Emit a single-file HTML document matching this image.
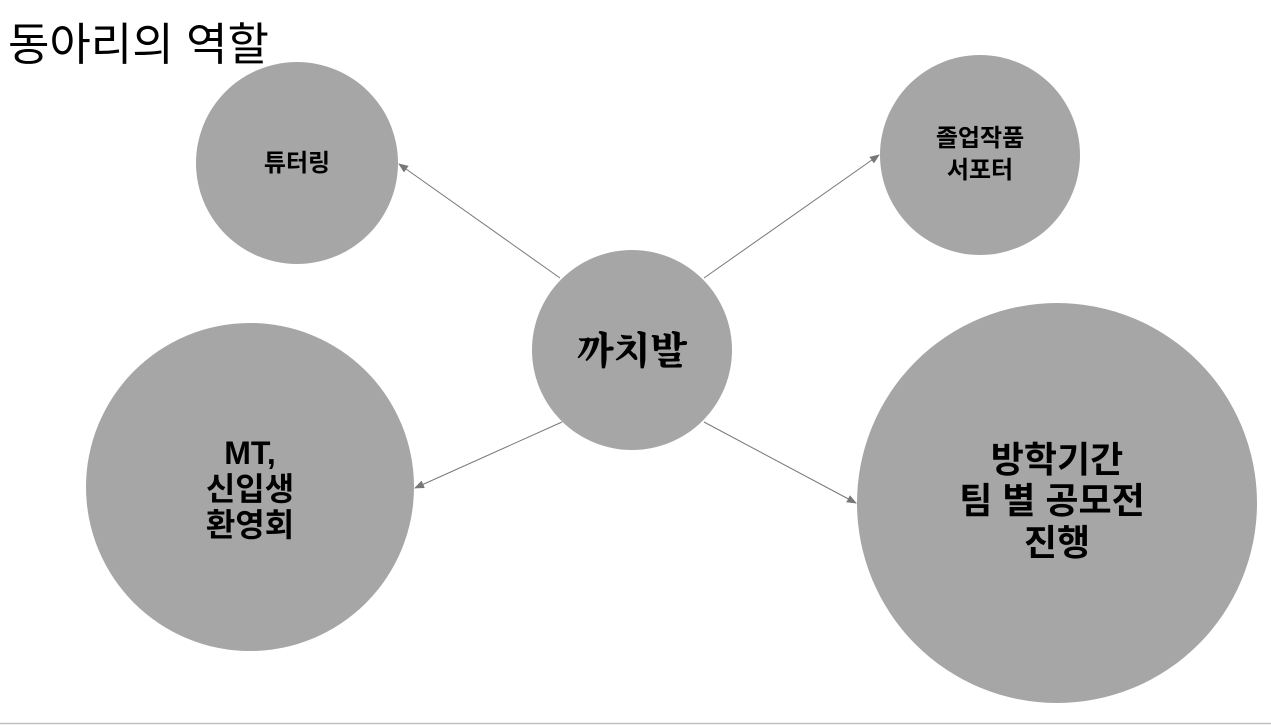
<!DOCTYPE html>
<html><head><meta charset="utf-8"><style>
html,body{margin:0;padding:0;background:#fff;}
body{width:1271px;height:725px;overflow:hidden;position:relative;}
svg{position:absolute;left:0;top:0;}
.t{font-family:"Liberation Sans","Noto Sans CJK KR",sans-serif;font-weight:bold;fill:#000;text-anchor:middle;}
</style></head><body>
<svg width="1271" height="725" viewBox="0 0 1271 725">
<defs><marker id="a" markerWidth="10" markerHeight="8" refX="9" refY="4" orient="auto" markerUnits="userSpaceOnUse"><path d="M0,0 L10,4 L0,8 z" fill="#777"/></marker></defs>
<text x="8" y="60" font-family="Liberation Sans,'Noto Sans CJK KR',sans-serif" font-size="45" fill="#000">동아리의 역할</text>
<g fill="#a6a6a6">
<circle cx="297" cy="163" r="101"/>
<circle cx="980" cy="155" r="100"/>
<circle cx="632" cy="350" r="100"/>
<circle cx="250" cy="487" r="164"/>
<circle cx="1057" cy="503" r="200"/>
</g>
<g stroke="#777" stroke-width="1" marker-end="url(#a)">
<line x1="560" y1="278" x2="399" y2="164"/>
<line x1="704" y1="278" x2="879" y2="155"/>
<line x1="562" y1="422" x2="415" y2="488"/>
<line x1="704" y1="422" x2="856" y2="503"/>
</g>
<text class="t" x="297" y="171" font-size="24">튜터링</text>
<text class="t" x="980" y="146" font-size="24">졸업작품</text>
<text class="t" x="980" y="178" font-size="24">서포터</text>
<text x="632" y="364" text-anchor="middle" font-family="'Noto Serif CJK SC','Noto Sans CJK KR',serif" font-weight="900" font-size="38" fill="#000">까치발</text>
<text class="t" x="250" y="464" font-size="32">MT,</text>
<text class="t" x="250" y="500" font-size="32">신입생</text>
<text class="t" x="250" y="536" font-size="32">환영회</text>
<text class="t" x="1057" y="472" font-size="36">방학기간</text>
<text class="t" x="1052" y="513" font-size="36">팀 별 공모전</text>
<text class="t" x="1057" y="555" font-size="36">진행</text>
<line x1="0" y1="723.5" x2="1271" y2="723.5" stroke="#c0c0c0" stroke-width="1.5"/>
</svg>
</body></html>
